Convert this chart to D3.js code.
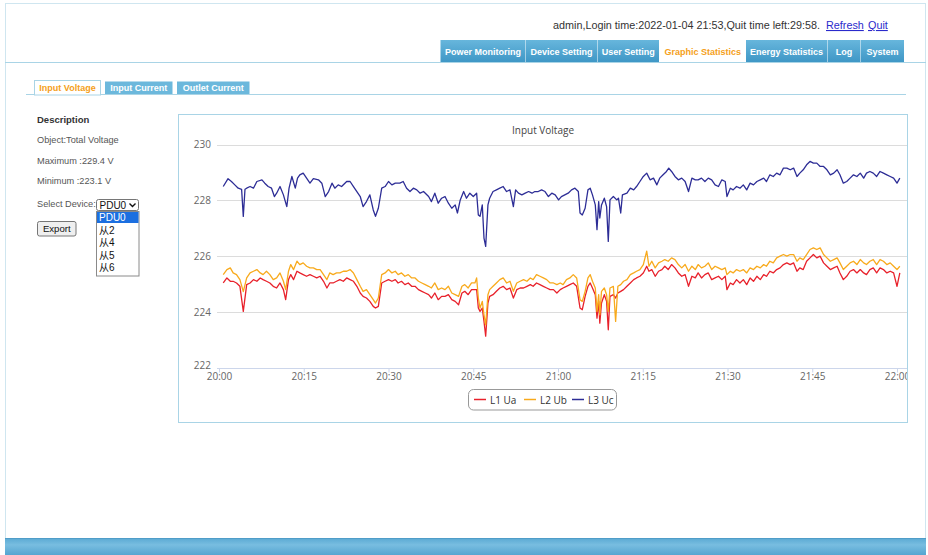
<!DOCTYPE html>
<html><head><meta charset="utf-8">
<script src="https://cdn.jsdelivr.net/npm/d3@7/dist/d3.min.js"></script>
<style>
html,body{margin:0;padding:0;background:#fff;overflow:hidden}
svg{display:block}
</style></head>
<body>
<svg id="page" width="928" height="555"></svg>
<script>
// ---------------- DATA ----------------
const chartTitle = "Input Voltage";
const seriesNames = ["L1 Ua", "L2 Ub", "L3 Uc"];
const seriesColors = ["#e8212b", "#f8aa1c", "#2d2d96"];
const yTicks = [222, 224, 226, 228, 230];
const xTickLabels = ["20:00","20:15","20:30","20:45","21:00","21:15","21:30","21:45","22:00"];
const navTabs = ["Power Monitoring","Device Setting","User Setting","Graphic Statistics","Energy Statistics","Log","System"];
const subTabs = ["Input Voltage","Input Current","Outlet Current"];
const deviceOptions = ["PDU0","从2","从4","从5","从6"];
const descLines = ["Object:Total Voltage","Maximum :229.4 V","Minimum :223.1 V"];

// minutes after 20:00 for L1 / L2 samples
const phaseMin = [
 0.75,1.4,2,2.5,3.1,3.7,4.3,4.9,5.5,6.1,
 6.7,7.3,7.8,8.4,9,9.6,10.2,10.8,11.4,11.8,
 12.3,12.7,13.2,13.8,14.3,14.9,15.5,16.1,16.7,17.3,
 17.9,18.5,19.1,19.6,20.2,20.8,21.4,22,22.6,23.2,
 23.8,24.4,25,25.5,26.1,26.7,27.3,27.7,28.2,28.8,
 29.4,30,30.6,31.2,31.7,32.3,32.9,33.5,34.1,34.7,
 35.3,35.9,36.5,37.1,37.6,38.2,38.8,39.4,
 40,40.6,41.2,41.8,42.4,43,43.5,44.1,44.7,45.3,
 45.6,45.9,46.2,46.6,46.9,47.2,47.6,47.9,48.5,49.1,
 49.7,50.3,50.9,51.5,52.1,52.7,53.3,53.9,54.5,55.1,
 55.6,56.2,56.8,57.4,58,58.6,59.2,59.8,60.4,60.9,
 61.5,62.1,62.7,63.3,63.9,64.3,64.8,65.3,65.7,66.1,
 66.6,66.9,67.2,67.4,67.7,68.2,68.6,68.9,69.2,69.8,
 70.2,70.6,71.1,71.6,72.2,72.8,73.4,73.9,74.5,75.1,
 75.7,76.1,76.6,77.2,77.8,78.4,78.9,79.5,80.1,
 80.7,81.3,81.9,82.5,83.1,83.7,84.3,84.8,85.4,86,
 86.6,87.2,87.8,88.4,89,89.6,89.9,90.5,91,91.6,
 92.2,92.8,93.4,94,94.6,95.2,95.8,96.4,96.9,97.5,
 98.1,98.7,99.3,99.9,100.5,101.1,101.7,102.3,102.8,103.4,
 104,104.6,105.2,105.8,106.4,107,107.6,108.2,108.8,109.4,
 109.9,110.5,111.1,111.7,112.3,112.9,113.5,114.1,114.6,115.2,
 115.8,116.4,117,117.6,118.2,118.8,119.4,120,120.5
];
const l1Ua = [
 225.04,225.22,225.10,225.10,225.04,224.92,224.02,224.98,225.04,225.16,
 225.10,225.22,225.16,225.10,225.04,224.92,224.86,225.04,224.80,224.44,
 225.16,225.34,225.16,225.46,225.40,225.34,225.28,225.34,225.28,225.22,
 225.28,225.10,224.86,225.04,225.04,225.10,225.16,225.10,225.22,225.16,
 225.10,224.92,224.68,224.56,224.50,224.38,224.20,224.14,224.20,225.04,
 225.10,225.16,225.10,225.16,225.04,225.10,224.98,225.04,224.92,224.92,
 224.80,224.74,224.68,224.62,224.50,224.68,224.44,224.56,
 224.56,224.62,224.44,224.38,224.26,224.68,224.74,224.62,224.80,224.80,
 224.80,224.14,224.02,224.14,223.66,223.13,224.32,224.56,224.62,224.74,
 224.86,224.92,224.80,224.86,224.50,224.80,224.86,224.86,224.92,224.98,
 224.92,225.04,224.98,224.92,224.86,224.80,224.80,224.68,224.80,224.86,
 224.92,224.98,225.04,224.92,224.14,224.08,224.56,224.92,225.04,224.86,
 224.62,223.78,224.38,223.60,224.32,224.62,224.38,223.36,224.56,224.62,
 224.50,224.68,224.74,224.80,224.92,225.04,225.16,225.22,225.28,225.40,
 225.64,225.46,225.52,225.28,225.46,225.52,225.64,225.52,225.70,
 225.58,225.40,225.28,225.34,224.92,225.28,225.22,225.40,225.22,225.34,
 225.40,225.16,225.22,225.28,225.16,225.28,224.80,225.04,224.98,225.16,
 225.04,225.16,224.98,225.22,225.10,225.28,225.16,225.34,225.28,225.46,
 225.40,225.52,225.58,225.70,225.76,225.70,225.76,225.46,225.58,225.52,
 225.82,225.94,226.06,225.94,226.00,225.76,225.64,225.52,225.58,225.64,
 225.40,225.16,225.28,225.46,225.52,225.40,225.52,225.40,225.34,225.52,
 225.58,225.40,225.58,225.52,225.40,225.46,225.40,224.92,225.40
];
const l2Ub = [
 225.34,225.52,225.58,225.40,225.34,225.16,224.73,225.22,225.40,225.46,
 225.52,225.40,225.34,225.46,225.34,225.16,225.22,225.40,225.10,224.80,
 225.46,225.70,225.52,225.82,225.70,225.76,225.64,225.58,225.58,225.52,
 225.52,225.34,225.16,225.40,225.34,225.40,225.40,225.46,225.46,225.52,
 225.40,225.16,224.92,224.74,224.80,224.62,224.44,224.32,224.50,225.34,
 225.40,225.52,225.40,225.46,225.34,225.40,225.28,225.34,225.22,225.22,
 225.10,225.04,224.98,224.92,224.86,225.04,224.80,224.86,
 224.80,224.92,224.68,224.62,224.56,224.92,224.98,224.86,225.04,225.04,
 225.22,224.50,224.14,224.38,223.90,223.54,224.62,224.80,224.92,225.04,
 225.16,225.22,225.04,225.10,224.74,225.04,225.10,225.16,225.10,225.22,
 225.16,225.34,225.28,225.22,225.16,225.04,225.04,224.98,225.04,224.98,
 225.16,225.22,225.34,225.22,224.44,224.38,224.74,225.22,225.34,225.10,
 224.86,224.02,224.62,223.90,224.74,224.86,224.62,224.02,224.86,224.92,
 223.66,224.92,224.98,225.10,225.16,225.34,225.40,225.46,225.52,225.70,
 226.18,225.64,225.82,225.58,225.76,225.82,225.88,225.82,225.94,
 225.88,225.70,225.58,225.70,225.46,225.64,225.52,225.70,225.58,225.64,
 225.76,225.52,225.64,225.58,225.52,225.58,225.34,225.46,225.40,225.52,
 225.46,225.52,225.40,225.58,225.52,225.64,225.58,225.70,225.64,225.82,
 225.76,225.94,226.00,226.06,226.00,226.06,226.06,225.82,225.94,225.88,
 226.06,226.24,226.30,226.24,226.30,226.06,225.94,225.82,225.88,225.94,
 225.76,225.52,225.64,225.76,225.82,225.70,225.88,225.76,225.70,225.82,
 225.88,225.70,225.88,225.82,225.70,225.76,225.64,225.52,225.64
];
// minutes after 20:00 for L3 samples
const blueMin = [
 0.75,1.6,2.2,2.8,3.4,4.0,4.3,4.6,4.9,5.5,
 6.1,6.7,7.6,8.1,8.7,9.3,9.8,10.2,10.8,11.4,
 12.0,12.4,12.9,13.5,13.9,14.3,14.9,15.5,16.1,16.7,
 17.6,18.2,18.8,19.4,20.0,20.5,21.1,21.7,22.6,23.2,
 23.8,24.4,25.0,25.5,26.1,26.7,27.3,27.7,28.2,28.8,
 29.4,30.0,30.6,31.2,32.0,32.6,33.2,33.8,34.4,35.0,
 35.6,36.2,37.1,37.6,38.2,38.8,39.4,40.0,40.6,41.2,
 41.8,42.2,42.7,43.3,43.8,44.4,45.0,45.6,45.9,46.2,
 46.6,46.9,47.2,47.6,47.9,48.5,49.1,49.7,50.3,50.9,
 51.5,52.1,52.5,53.0,53.6,54.2,54.8,55.4,55.9,56.5,
 57.1,57.7,58.3,58.9,59.5,60.1,60.6,61.2,61.8,62.4,
 63.0,63.6,63.9,64.3,64.8,65.3,65.7,66.1,66.6,66.9,
 67.2,67.4,67.7,68.2,68.6,68.9,69.2,69.8,70.4,70.7,
 71.1,71.4,72.2,72.8,73.4,73.9,74.5,75.1,75.7,76.3,
 76.9,77.5,78.0,78.6,79.2,79.6,80.1,80.7,81.3,81.9,
 82.5,83.1,83.7,84.3,84.8,85.4,86.0,86.6,87.2,87.8,
 88.4,89.0,89.6,89.9,90.5,91.0,91.6,92.2,92.8,93.4,
 94.0,94.6,95.2,95.8,96.4,96.9,97.5,98.1,98.7,99.3,
 99.9,100.5,101.1,101.7,102.3,102.8,103.4,104.0,104.6,105.2,
 105.8,106.4,107.0,107.6,108.2,108.8,109.4,109.9,110.5,111.1,
 111.7,112.3,112.9,113.5,114.1,114.6,115.2,115.8,116.4,117.0,
 117.6,118.2,118.8,119.4,120.0,120.5
];
const l3Uc = [
 228.50,228.78,228.68,228.56,228.44,228.40,227.43,228.40,228.44,228.50,
 228.44,228.68,228.74,228.62,228.50,228.44,228.14,228.26,228.50,228.20,
 227.78,228.44,228.86,228.44,228.80,228.92,228.98,228.80,228.62,228.78,
 228.74,228.62,228.14,228.32,228.62,228.44,228.56,228.50,228.68,228.68,
 228.50,228.32,228.14,227.78,227.96,228.20,227.66,227.43,227.72,228.44,
 228.50,228.68,228.56,228.62,228.62,228.68,228.44,228.32,228.44,228.38,
 228.26,228.32,228.14,227.96,228.26,227.90,228.08,228.14,227.90,227.72,
 227.84,227.55,228.02,228.32,228.08,228.26,228.14,228.26,227.48,227.43,
 227.84,226.65,226.35,227.84,228.08,228.32,228.38,228.44,228.50,228.32,
 228.38,227.78,228.38,228.26,228.20,228.26,228.32,228.26,228.32,228.32,
 228.38,228.32,228.14,228.26,228.20,228.02,228.14,228.20,228.26,228.38,
 228.44,228.32,227.55,227.48,227.72,228.38,228.44,228.20,227.84,226.95,
 227.96,227.37,227.84,228.08,227.78,226.53,228.02,228.14,228.02,228.08,
 227.55,228.20,228.26,228.44,228.38,228.50,228.68,228.86,228.98,228.74,
 228.80,228.56,228.80,228.92,229.04,229.16,229.04,228.86,228.74,228.80,
 228.68,228.32,228.80,228.74,228.74,228.80,228.68,228.80,228.74,228.56,
 228.50,228.74,228.68,228.14,228.44,228.38,228.50,228.44,228.56,228.38,
 228.62,228.56,228.68,228.74,228.80,228.68,228.92,228.86,228.98,228.92,
 229.16,229.16,229.10,229.16,228.86,228.98,229.10,229.28,229.40,229.34,
 229.34,229.22,229.22,229.10,228.92,228.98,229.10,228.92,228.62,228.68,
 228.80,228.92,228.86,228.98,228.80,228.98,229.04,228.98,228.86,229.04,
 228.98,228.92,228.86,228.80,228.62,228.80
];

// ---------------- PAGE ----------------
const svg = d3.select("#page");
const FONT = "'Liberation Sans', Arial, sans-serif";
const CFONT = "'Open Sans', 'Liberation Sans', sans-serif";
const defs = svg.append("defs");
const g1 = defs.append("linearGradient").attr("id","navg").attr("x1",0).attr("y1",0).attr("x2",0).attr("y2",1);
g1.append("stop").attr("offset","0%").attr("stop-color","#67b6dc");
g1.append("stop").attr("offset","100%").attr("stop-color","#3f97c6");
const g2 = defs.append("linearGradient").attr("id","footg").attr("x1",0).attr("y1",0).attr("x2",0).attr("y2",1);
g2.append("stop").attr("offset","0%").attr("stop-color","#5aa9d3");
g2.append("stop").attr("offset","40%").attr("stop-color","#78bde0");
g2.append("stop").attr("offset","100%").attr("stop-color","#55a5d1");

// outer frame
svg.append("rect").attr("x",5.5).attr("y",3.5).attr("width",920).attr("height",540)
  .attr("fill","#fff").attr("stroke","#cfe6f0");
// footer
svg.append("rect").attr("x",5).attr("y",538).attr("width",921).attr("height",17).attr("fill","url(#footg)");
svg.append("line").attr("x1",5).attr("x2",926).attr("y1",538.5).attr("y2",538.5).attr("stroke","#4f9dc8");

// header text
svg.append("text").attr("x",553).attr("y",29).attr("font-family",FONT).attr("font-size",10.8).attr("fill","#333")
  .text("admin,Login time:2022-01-04 21:53,Quit time left:29:58.");
svg.append("text").attr("x",826).attr("y",29).attr("font-family",FONT).attr("font-size",10.8)
  .attr("fill","#2a2acc").attr("text-decoration","underline").text("Refresh");
svg.append("text").attr("x",868).attr("y",29).attr("font-family",FONT).attr("font-size",10.8)
  .attr("fill","#2a2acc").attr("text-decoration","underline").text("Quit");

// nav tabs
const navX = [440.5, 526, 597.5, 660, 746, 827.5, 861];
const navW = [85, 71, 61.5, 85.5, 81, 33, 43];
const navG = svg.append("g");
navTabs.forEach((t,i)=>{
  const active = i===3;
  navG.append("rect").attr("x",navX[i]).attr("y",40).attr("width",navW[i]).attr("height",22)
    .attr("fill", active ? "#fff" : "url(#navg)");
  navG.append("text").attr("x",navX[i]+navW[i]/2).attr("y",55).attr("text-anchor","middle")
    .attr("font-family",FONT).attr("font-weight","bold").attr("font-size",9)
    .attr("fill", active ? "#f5a020" : "#fff").text(t);
});
svg.append("line").attr("x1",5).attr("x2",926).attr("y1",62.5).attr("y2",62.5).attr("stroke","#a9d4e6");

// sub tabs
const subX = [34.5, 105, 177];
const subW = [66, 67.5, 72.5];
svg.append("line").attr("x1",26).attr("x2",906).attr("y1",94.5).attr("y2",94.5).attr("stroke","#a9d4e6");
subTabs.forEach((t,i)=>{
  const active = i===0;
  svg.append("rect").attr("x",subX[i]).attr("y",active?80.5:81.5).attr("width",subW[i]).attr("height",active?14.5:12.5)
    .attr("fill", active ? "#fff" : "#6cb8dc").attr("stroke", active ? "#a9d4e6" : "none");
  svg.append("text").attr("x",subX[i]+subW[i]/2).attr("y",91).attr("text-anchor","middle")
    .attr("font-family",FONT).attr("font-weight","bold").attr("font-size",9)
    .attr("fill", active ? "#f5a020" : "#fff").text(t);
});

// left panel
svg.append("text").attr("x",37).attr("y",122.5).attr("font-family",FONT).attr("font-weight","bold")
  .attr("font-size",9.5).attr("fill","#333").text("Description");
descLines.forEach((t,i)=>{
  svg.append("text").attr("x",37).attr("y",143+i*20.7).attr("font-family",FONT)
    .attr("font-size",9.2).attr("fill","#555").text(t);
});
svg.append("text").attr("x",37).attr("y",206.5).attr("font-family",FONT)
  .attr("font-size",9.2).attr("fill","#555").text("Select Device:");
// select box
svg.append("rect").attr("x",96.5).attr("y",199.5).attr("width",42).attr("height",11).attr("rx",2)
  .attr("fill","#fff").attr("stroke","#767676");
svg.append("text").attr("x",99.5).attr("y",208.5).attr("font-family",FONT).attr("font-size",10).attr("fill","#111").text(deviceOptions[0]);
svg.append("path").attr("d","M129.5,203.5 L132.5,206.5 L135.5,203.5").attr("fill","none").attr("stroke","#111").attr("stroke-width",1.4);
// dropdown list
svg.append("rect").attr("x",96.5).attr("y",211.5).attr("width",42.5).attr("height",64.5)
  .attr("fill","#fff").attr("stroke","#8a8a8a");
svg.append("rect").attr("x",97).attr("y",212).attr("width",41.5).attr("height",11).attr("fill","#1c6fe0");
deviceOptions.forEach((t,i)=>{
  svg.append("text").attr("x",99).attr("y",221+i*12.6).attr("font-family","'Liberation Sans','Noto Sans CJK SC',sans-serif")
    .attr("font-size",10).attr("fill", i===0 ? "#fff" : "#111").text(t);
});
// export button
svg.append("rect").attr("x",37.5).attr("y",221.5).attr("width",38.5).attr("height",14.5).attr("rx",2)
  .attr("fill","#efefef").attr("stroke","#767676");
svg.append("text").attr("x",56.75).attr("y",232.3).attr("text-anchor","middle").attr("font-family",FONT)
  .attr("font-size",9.6).attr("fill","#111").text("Export");

// ---------------- CHART ----------------
const box = {x0:178.5, y0:114.5, x1:907.5, y1:422.5};
svg.append("rect").attr("x",box.x0).attr("y",box.y0).attr("width",box.x1-box.x0).attr("height",box.y1-box.y0)
  .attr("fill","#fff").attr("stroke","#a9d4e6");

const t0 = new Date(2022,0,4,20,0,0);
const tm = m => new Date(t0.getTime() + m*60000);
const x = d3.scaleTime().domain([t0, tm(120)]).range([219, 897]);
const y = d3.scaleLinear().domain([222, 230]).range([367.7, 144.7]);
const plotL = 217, plotR = 907;

defs.append("clipPath").attr("id","boxclip").append("rect")
  .attr("x",box.x0).attr("y",box.y0).attr("width",box.x1-box.x0-0.5).attr("height",box.y1-box.y0);
const chart = svg.append("g").attr("clip-path","url(#boxclip)");

// title
chart.append("text").attr("x",543).attr("y",134).attr("text-anchor","middle")
  .attr("font-family",CFONT).attr("font-size",10).attr("fill","#444").text(chartTitle);

// grid
chart.append("g").selectAll("line").data(yTicks.filter(v=>v!==222)).join("line")
  .attr("x1",plotL).attr("x2",plotR).attr("y1",d=>Math.round(y(d))+0.5).attr("y2",d=>Math.round(y(d))+0.5)
  .attr("stroke","#dcdcdc");

// y axis labels
const yAxis = chart.append("g").attr("transform",`translate(${211},0)`)
  .call(d3.axisLeft(y).tickValues(yTicks).tickSize(0).tickPadding(0).tickFormat(d3.format("d")));
yAxis.select(".domain").remove();
yAxis.selectAll("text").attr("font-family",CFONT).attr("font-size",10).attr("fill","#666")
  .attr("dy", d => d===222 ? "0.12em" : "0.32em");

// x axis
const xTickDates = xTickLabels.map((s,i)=>tm(i*15));
const xAxis = chart.append("g").attr("transform",`translate(0,${Math.round(y(222))+0.5})`)
  .call(d3.axisBottom(x).tickValues(xTickDates).tickSizeInner(4).tickSizeOuter(0)
    .tickFormat((d,i)=>xTickLabels[i]));
xAxis.select(".domain").attr("d",`M${plotL},0H${plotR}`).attr("stroke","#ccd6eb");
xAxis.selectAll(".tick line").attr("stroke","#ccd6eb");
xAxis.selectAll("text").attr("y",4).attr("font-family",CFONT).attr("font-size",10).attr("fill","#666");

// lines
const line = d3.line().x(d=>x(d[0])).y(d=>y(d[1]));
const mk = (ts, vs) => d3.range(Math.min(ts.length, vs.length)).map(i=>[tm(ts[i]), vs[i]]);
const seriesData = [mk(phaseMin,l1Ua), mk(phaseMin,l2Ub), mk(blueMin,l3Uc)];
seriesData.forEach((d,i)=>{
  chart.append("path").datum(d).attr("d",line).attr("fill","none")
    .attr("stroke",seriesColors[i]).attr("stroke-width",1.3).attr("stroke-linejoin","round");
});

// legend
const lg = svg.append("g");
lg.append("rect").attr("x",468.5).attr("y",389.5).attr("width",148).attr("height",20.5).attr("rx",5)
  .attr("fill","#fff").attr("stroke","#999");
const legX = [474, 524, 572];
seriesNames.forEach((n,i)=>{
  lg.append("line").attr("x1",legX[i]).attr("x2",legX[i]+12).attr("y1",399.5).attr("y2",399.5)
    .attr("stroke",seriesColors[i]).attr("stroke-width",1.5);
  lg.append("text").attr("x",legX[i]+16).attr("y",403.5).attr("font-family",CFONT).attr("font-size",10)
    .attr("fill","#333").text(n);
});
</script>
</body></html>
